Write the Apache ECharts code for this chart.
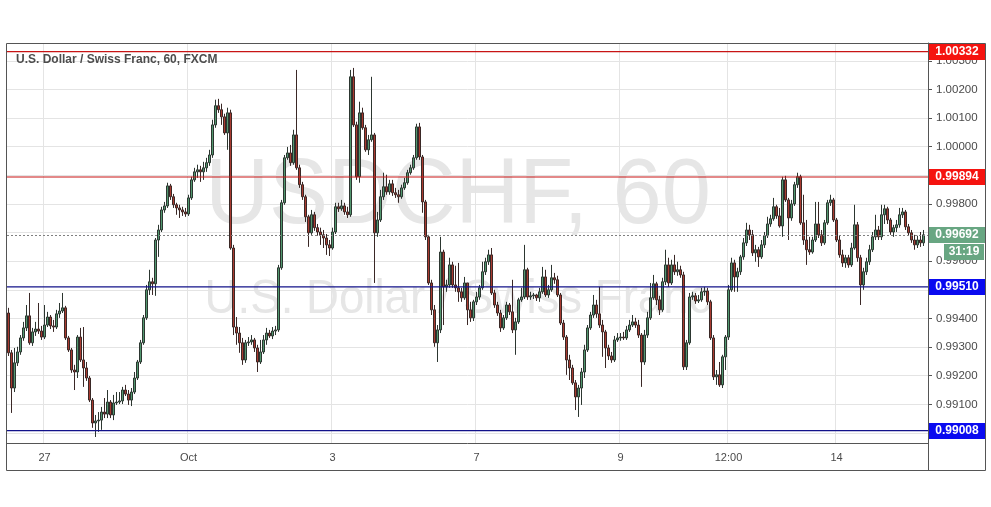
<!DOCTYPE html>
<html><head><meta charset="utf-8">
<script src="https://cdn.jsdelivr.net/npm/echarts@6/dist/echarts.min.js"></script>
<style>html,body{margin:0;padding:0;background:#fff}#c{width:991px;height:507px}</style>
</head><body><div id="c"></div>
<script>
// Hourly candles, each row: [open, close, low, high]
const sep26 = [
[0.99419,0.99280,0.99269,0.99437],[0.99280,0.99157,0.99070,0.99290],[0.99157,0.99245,0.99143,0.99297],[0.99245,0.99283,0.99234,0.99301],
[0.99283,0.99332,0.99273,0.99342],[0.99332,0.99367,0.99322,0.99388],[0.99367,0.99409,0.99356,0.99447],[0.99409,0.99315,0.99308,0.99489],
[0.99315,0.99353,0.99304,0.99367],[0.99353,0.99363,0.99339,0.99388],[0.99363,0.99356,0.99346,0.99454],[0.99356,0.99335,0.99325,0.99374]];
const sep27 = [
[0.99335,0.99377,0.99328,0.99447],[0.99377,0.99405,0.99370,0.99423],[0.99405,0.99374,0.99363,0.99412],[0.99374,0.99370,0.99353,0.99395],
[0.99370,0.99416,0.99363,0.99430],[0.99416,0.99426,0.99402,0.99454],[0.99426,0.99437,0.99419,0.99489],[0.99437,0.99332,0.99325,0.99444],
[0.99332,0.99290,0.99283,0.99339],[0.99290,0.99220,0.99210,0.99297],[0.99220,0.99213,0.99150,0.99238],[0.99213,0.99335,0.99192,0.99342],
[0.99335,0.99255,0.99248,0.99367],[0.99255,0.99227,0.99161,0.99370],[0.99227,0.99192,0.99182,0.99248],[0.99192,0.99115,0.99108,0.99199],
[0.99115,0.99035,0.99018,0.99122],[0.99035,0.99042,0.98986,0.99063],[0.99042,0.99045,0.99004,0.99073],[0.99045,0.99073,0.99011,0.99091],
[0.99073,0.99066,0.99052,0.99122],[0.99066,0.99108,0.99052,0.99150]];
const sep29 = [[0.99108,0.99063,0.99052,0.99115],[0.99063,0.99105,0.99045,0.99133]];
const sep30 = [
[0.99105,0.99108,0.99098,0.99143],[0.99108,0.99112,0.99101,0.99143],[0.99112,0.99150,0.99101,0.99161],[0.99150,0.99136,0.99129,0.99168],
[0.99136,0.99115,0.99098,0.99150],[0.99115,0.99143,0.99094,0.99157],[0.99143,0.99192,0.99136,0.99213],[0.99192,0.99248,0.99185,0.99255],
[0.99248,0.99315,0.99241,0.99325],[0.99315,0.99402,0.99308,0.99412],[0.99402,0.99500,0.99395,0.99517],[0.99500,0.99528,0.99482,0.99570],
[0.99528,0.99521,0.99482,0.99542],[0.99521,0.99674,0.99479,0.99681],[0.99674,0.99709,0.99615,0.99727],[0.99709,0.99779,0.99702,0.99790],
[0.99779,0.99793,0.99769,0.99807],[0.99793,0.99863,0.99786,0.99874],[0.99863,0.99825,0.99814,0.99870],[0.99825,0.99797,0.99786,0.99835],
[0.99797,0.99786,0.99762,0.99804],[0.99786,0.99779,0.99751,0.99797],[0.99779,0.99772,0.99758,0.99790],[0.99772,0.99765,0.99755,0.99786]];
const oct01 = [
[0.99765,0.99821,0.99758,0.99832],[0.99821,0.99884,0.99814,0.99895],[0.99884,0.99912,0.99877,0.99926],[0.99912,0.99919,0.99891,0.99937],
[0.99919,0.99912,0.99877,0.99933],[0.99912,0.99926,0.99884,0.99947],[0.99926,0.99944,0.99912,0.99961],[0.99944,0.99971,0.99933,0.99989],
[0.99971,1.00076,0.99961,1.00094],[1.00076,1.00143,1.00066,1.00164],[1.00143,1.00129,1.00118,1.00167],[1.00129,1.00104,1.00076,1.00150],
[1.00104,1.00048,1.00041,1.00115],[1.00048,1.00118,0.99989,1.00136],[1.00118,0.99646,0.99640,1.00129],[0.99646,0.99370,0.99342,0.99657],
[0.99370,0.99349,0.99308,0.99405],[0.99349,0.99315,0.99280,0.99370],[0.99315,0.99255,0.99238,0.99332],[0.99255,0.99315,0.99245,0.99325],
[0.99315,0.99318,0.99304,0.99335],[0.99318,0.99325,0.99308,0.99342],[0.99325,0.99297,0.99283,0.99332],[0.99297,0.99248,0.99213,0.99308]];
const oct02 = [
[0.99248,0.99283,0.99241,0.99325],[0.99283,0.99325,0.99276,0.99342],[0.99325,0.99349,0.99308,0.99367],[0.99349,0.99339,0.99332,0.99360],
[0.99339,0.99356,0.99328,0.99370],[0.99356,0.99360,0.99342,0.99374],[0.99360,0.99577,0.99353,0.99587],[0.99577,0.99804,0.99570,0.99814],
[0.99804,0.99961,0.99797,0.99971],[0.99961,0.99978,0.99954,0.99999],[0.99978,0.99944,0.99933,1.00006],[0.99944,1.00041,0.99937,1.00059],
[1.00041,0.99926,0.99919,1.00268],[0.99926,0.99867,0.99856,0.99937],[0.99867,0.99825,0.99814,0.99877],[0.99825,0.99755,0.99737,0.99832],
[0.99755,0.99699,0.99650,0.99762],[0.99699,0.99762,0.99692,0.99779],[0.99762,0.99717,0.99706,0.99772],[0.99717,0.99702,0.99689,0.99730],
[0.99702,0.99692,0.99657,0.99717],[0.99692,0.99681,0.99646,0.99709],[0.99681,0.99657,0.99622,0.99695],[0.99657,0.99646,0.99618,0.99674]];
const oct03 = [
[0.99646,0.99702,0.99640,0.99717],[0.99702,0.99790,0.99695,0.99804],[0.99790,0.99783,0.99772,0.99804],[0.99783,0.99793,0.99776,0.99814],
[0.99793,0.99772,0.99762,0.99804],[0.99772,0.99762,0.99751,0.99790],[0.99762,1.00244,0.99755,1.00268],[1.00244,1.00076,1.00069,1.00275],
[1.00076,0.99895,0.99884,1.00087],[0.99895,1.00118,0.99874,1.00157],[1.00118,1.00066,1.00059,1.00136],[1.00066,0.99989,0.99982,1.00076],
[0.99989,1.00024,0.99971,1.00041],[1.00024,1.00041,1.00017,1.00244],[1.00041,0.99699,0.99524,1.00048],[0.99699,0.99744,0.99685,0.99772],
[0.99744,0.99825,0.99737,0.99849],[0.99825,0.99860,0.99814,0.99909],[0.99860,0.99842,0.99832,0.99902],[0.99842,0.99870,0.99832,0.99884],
[0.99870,0.99839,0.99828,0.99884],[0.99839,0.99832,0.99821,0.99856],[0.99832,0.99825,0.99804,0.99849],[0.99825,0.99856,0.99818,0.99867]];
const oct04 = [
[0.99856,0.99874,0.99849,0.99891],[0.99874,0.99909,0.99867,0.99919],[0.99909,0.99926,0.99902,0.99937],[0.99926,0.99961,0.99919,0.99971],
[0.99961,1.00069,0.99954,1.00080],[1.00069,0.99964,0.99954,1.00083],[0.99964,0.99807,0.99769,0.99971],[0.99807,0.99685,0.99674,0.99814],
[0.99685,0.99524,0.99517,0.99692],[0.99524,0.99430,0.99412,0.99535],[0.99430,0.99315,0.99301,0.99447],[0.99315,0.99360,0.99248,0.99377],
[0.99360,0.99632,0.99349,0.99685],[0.99632,0.99510,0.99377,0.99640],[0.99510,0.99517,0.99493,0.99535],[0.99517,0.99587,0.99507,0.99612],
[0.99587,0.99517,0.99507,0.99598],[0.99517,0.99507,0.99493,0.99584],[0.99507,0.99493,0.99458,0.99594],[0.99493,0.99472,0.99458,0.99507],
[0.99472,0.99524,0.99465,0.99545],[0.99524,0.99430,0.99377,0.99524]];
const oct06 = [[0.99430,0.99402,0.99388,0.99458],[0.99402,0.99458,0.99391,0.99465]];
const oct07 = [
[0.99458,0.99475,0.99447,0.99493],[0.99475,0.99507,0.99465,0.99517],[0.99507,0.99563,0.99500,0.99598],[0.99563,0.99598,0.99552,0.99612],
[0.99598,0.99622,0.99587,0.99640],[0.99622,0.99489,0.99482,0.99646],[0.99489,0.99447,0.99437,0.99500],[0.99447,0.99419,0.99409,0.99458],
[0.99419,0.99367,0.99353,0.99430],[0.99367,0.99402,0.99360,0.99412],[0.99402,0.99447,0.99395,0.99458],[0.99447,0.99423,0.99412,0.99454],
[0.99423,0.99360,0.99349,0.99535],[0.99360,0.99388,0.99273,0.99402],[0.99388,0.99465,0.99381,0.99472],[0.99465,0.99475,0.99458,0.99507],
[0.99475,0.99570,0.99468,0.99657],[0.99570,0.99475,0.99465,0.99577],[0.99475,0.99479,0.99465,0.99493],[0.99479,0.99482,0.99468,0.99489],
[0.99482,0.99472,0.99461,0.99486],[0.99472,0.99493,0.99458,0.99507],[0.99493,0.99545,0.99486,0.99580],[0.99545,0.99482,0.99475,0.99570]];
const oct08 = [
[0.99482,0.99500,0.99472,0.99517],[0.99500,0.99542,0.99493,0.99587],[0.99542,0.99535,0.99521,0.99559],[0.99535,0.99482,0.99475,0.99549],
[0.99482,0.99384,0.99377,0.99489],[0.99384,0.99335,0.99325,0.99395],[0.99335,0.99255,0.99203,0.99342],[0.99255,0.99227,0.99185,0.99273],
[0.99227,0.99175,0.99168,0.99238],[0.99175,0.99126,0.99080,0.99185],[0.99126,0.99157,0.99056,0.99168],[0.99157,0.99213,0.99098,0.99227],
[0.99213,0.99290,0.99192,0.99308],[0.99290,0.99367,0.99283,0.99377],[0.99367,0.99412,0.99360,0.99423],[0.99412,0.99447,0.99402,0.99482],
[0.99447,0.99416,0.99402,0.99465],[0.99416,0.99377,0.99367,0.99510],[0.99377,0.99353,0.99266,0.99395],[0.99353,0.99297,0.99227,0.99360],
[0.99297,0.99269,0.99255,0.99308],[0.99269,0.99255,0.99245,0.99283],[0.99255,0.99325,0.99248,0.99339],[0.99325,0.99332,0.99318,0.99349]];
const oct09 = [
[0.99332,0.99335,0.99322,0.99349],[0.99335,0.99332,0.99325,0.99353],[0.99332,0.99360,0.99325,0.99374],[0.99360,0.99377,0.99353,0.99395],
[0.99377,0.99388,0.99370,0.99412],[0.99388,0.99377,0.99367,0.99402],[0.99377,0.99342,0.99332,0.99395],[0.99342,0.99248,0.99161,0.99349],
[0.99248,0.99342,0.99238,0.99360],[0.99342,0.99402,0.99332,0.99423],[0.99402,0.99472,0.99395,0.99524],[0.99472,0.99521,0.99465,0.99552],
[0.99521,0.99465,0.99447,0.99528],[0.99465,0.99430,0.99412,0.99479],[0.99430,0.99528,0.99423,0.99542],[0.99528,0.99587,0.99517,0.99640],
[0.99587,0.99524,0.99510,0.99612],[0.99524,0.99587,0.99517,0.99605],[0.99587,0.99563,0.99552,0.99622],[0.99563,0.99570,0.99549,0.99598],
[0.99570,0.99552,0.99542,0.99584],[0.99552,0.99231,0.99220,0.99563],[0.99231,0.99315,0.99220,0.99325],[0.99315,0.99475,0.99308,0.99489]];
const oct10 = [
[0.99475,0.99479,0.99465,0.99493],[0.99479,0.99461,0.99451,0.99489],[0.99461,0.99465,0.99454,0.99482],[0.99465,0.99493,0.99458,0.99507],
[0.99493,0.99496,0.99479,0.99510],[0.99496,0.99458,0.99447,0.99507],[0.99458,0.99332,0.99325,0.99465],[0.99332,0.99196,0.99185,0.99342],
[0.99196,0.99203,0.99168,0.99220],[0.99203,0.99168,0.99161,0.99248],[0.99168,0.99266,0.99157,0.99273],[0.99266,0.99335,0.99220,0.99342],
[0.99335,0.99500,0.99325,0.99517],[0.99500,0.99594,0.99493,0.99612],[0.99594,0.99545,0.99493,0.99605],[0.99545,0.99563,0.99493,0.99577],
[0.99563,0.99615,0.99552,0.99622],[0.99615,0.99664,0.99605,0.99681],[0.99664,0.99709,0.99653,0.99734],[0.99709,0.99692,0.99674,0.99727],
[0.99692,0.99629,0.99618,0.99709],[0.99629,0.99640,0.99598,0.99657],[0.99640,0.99615,0.99580,0.99650],[0.99615,0.99657,0.99608,0.99674]];
const oct11 = [
[0.99657,0.99689,0.99646,0.99702],[0.99689,0.99730,0.99681,0.99755],[0.99730,0.99748,0.99720,0.99762],[0.99748,0.99790,0.99741,0.99821],
[0.99790,0.99758,0.99748,0.99797],[0.99758,0.99723,0.99717,0.99786],[0.99723,0.99884,0.99685,0.99895],[0.99884,0.99814,0.99807,0.99898],
[0.99814,0.99751,0.99674,0.99821],[0.99751,0.99800,0.99741,0.99814],[0.99800,0.99867,0.99793,0.99877],[0.99867,0.99895,0.99856,0.99909],
[0.99895,0.99734,0.99727,0.99902],[0.99734,0.99674,0.99657,0.99832],[0.99674,0.99640,0.99587,0.99744],[0.99640,0.99632,0.99622,0.99685],
[0.99632,0.99674,0.99626,0.99685],[0.99674,0.99730,0.99667,0.99807],[0.99730,0.99692,0.99681,0.99807],[0.99692,0.99664,0.99653,0.99709],
[0.99664,0.99734,0.99657,0.99744],[0.99734,0.99804,0.99727,0.99814]];
const oct13 = [[0.99804,0.99814,0.99793,0.99832],[0.99814,0.99744,0.99737,0.99821]];
const oct14 = [
[0.99744,0.99674,0.99667,0.99751],[0.99674,0.99622,0.99612,0.99689],[0.99622,0.99594,0.99580,0.99640],[0.99594,0.99612,0.99577,0.99622],
[0.99612,0.99587,0.99577,0.99622],[0.99587,0.99646,0.99580,0.99664],[0.99646,0.99727,0.99640,0.99797],[0.99727,0.99612,0.99598,0.99737],
[0.99612,0.99517,0.99447,0.99622],[0.99517,0.99563,0.99500,0.99577],[0.99563,0.99598,0.99552,0.99612],[0.99598,0.99640,0.99587,0.99657],
[0.99640,0.99685,0.99632,0.99702],[0.99685,0.99709,0.99674,0.99762],[0.99709,0.99685,0.99674,0.99723],[0.99685,0.99762,0.99674,0.99797],
[0.99762,0.99783,0.99730,0.99797],[0.99783,0.99744,0.99730,0.99790],[0.99744,0.99702,0.99692,0.99751],[0.99702,0.99717,0.99685,0.99727],
[0.99717,0.99727,0.99702,0.99744],[0.99727,0.99762,0.99717,0.99786],[0.99762,0.99772,0.99751,0.99786],[0.99772,0.99720,0.99709,0.99779]];
const oct15 = [
[0.99720,0.99699,0.99689,0.99730],[0.99699,0.99674,0.99664,0.99709],[0.99674,0.99657,0.99640,0.99692],[0.99657,0.99674,0.99646,0.99689],
[0.99674,0.99664,0.99650,0.99702],[0.99664,0.99692,0.99653,0.99709]];

// trading sessions: [date, first hour, rows]
const sessions = [
  ['2019-09-26', 12, sep26], ['2019-09-27', 0, sep27], ['2019-09-29', 22, sep29], ['2019-09-30', 0, sep30],
  ['2019-10-01', 0, oct01], ['2019-10-02', 0, oct02], ['2019-10-03', 0, oct03], ['2019-10-04', 0, oct04],
  ['2019-10-06', 22, oct06], ['2019-10-07', 0, oct07], ['2019-10-08', 0, oct08], ['2019-10-09', 0, oct09],
  ['2019-10-10', 0, oct10], ['2019-10-11', 0, oct11], ['2019-10-13', 22, oct13], ['2019-10-14', 0, oct14],
  ['2019-10-15', 0, oct15]
];
const tickTimes  = ['2019-09-27 00:00','2019-10-01 00:00','2019-10-03 00:00','2019-10-07 00:00','2019-10-09 00:00','2019-10-10 12:00','2019-10-14 00:00'];
const tickLabels = ['27','Oct','3','7','9','12:00','14'];
const levelPrices = [1.00332, 0.99894, 0.99510, 0.99008];
const levelKinds  = ['resistance','resistance','support','support'];
const lastPrice = 0.99692;
const countdown = '31:19';
const titleText = 'U.S. Dollar / Swiss Franc, 60, FXCM';
const wmSymbol = 'USDCHF, 60';
const wmName = 'U.S. Dollar / Swiss Franc';

const pad = n => (n < 10 ? '0' : '') + n;
const cats = [], data = [];
sessions.forEach(([d, h0, rows]) => rows.forEach((r, k) => { cats.push(d + ' ' + pad(h0 + k) + ':00'); data.push(r); }));
cats.push('2019-10-15 06:00'); data.push('-');
const tickSet = new Set(tickTimes.map(t => cats.indexOf(t)));
const labelOf = {}; tickTimes.forEach((t, i) => labelOf[t] = tickLabels[i]);
const isTick = idx => tickSet.has(idx);

const chart = echarts.init(document.getElementById('c'), null, {renderer: 'canvas'});
const kindColor = {resistance: '#c81414', support: '#12128a'};
const boxColor = {resistance: '#f5130f', support: '#0a0af0'};
const FONT = '"Liberation Sans", Arial, sans-serif';

chart.setOption({
  animation: false,
  backgroundColor: '#ffffff',
  grid: {left: 7, right: 63, top: 43, bottom: 64, show: false},
  xAxis: {
    type: 'category', data: cats, boundaryGap: true,
    axisLine: {lineStyle: {color: '#555555', width: 1}},
    axisTick: {alignWithLabel: true, interval: isTick, length: 4, lineStyle: {color: '#555555'}},
    axisLabel: {interval: isTick, formatter: v => labelOf[v] || '', color: '#4a4a4a', fontSize: 11, fontFamily: FONT, margin: 9},
    splitLine: {show: true, interval: isTick, lineStyle: {color: '#e4e4e4', width: 1}}
  },
  yAxis: {
    type: 'value', position: 'right', scale: true,
    min: 0.98965, max: 1.00362, splitNumber: 14,
    axisLine: {show: true, lineStyle: {color: '#555555'}},
    axisTick: {show: true, length: 4, lineStyle: {color: '#555555'}},
    axisLabel: {formatter: v => v.toFixed(5), color: '#4a4a4a', fontSize: 11.5, fontFamily: FONT, margin: 8, showMinLabel: false, showMaxLabel: false},
    splitLine: {show: true, lineStyle: {color: '#e4e4e4', width: 1}}
  },
  series: [{
    type: 'candlestick', data: data, barWidth: 2.5, z: 3,
    itemStyle: {color: '#52976f', color0: '#a83a30', borderColor: '#2c3630', borderColor0: '#3a2826', borderWidth: 1}
  }]
});

const yPix = v => chart.convertToPixel({yAxisIndex: 0}, v);
const xLeft = chart.convertToPixel({xAxisIndex: 0}, cats[0]) - 1.5;
const xRight = chart.convertToPixel({xAxisIndex: 0}, cats[cats.length - 1]) + 1.5;
const elems = [];
// watermark
elems.push({type: 'text', x: 458, y: 197, scaleX: 0.95, z: -10, silent: true,
  style: {text: wmSymbol, font: '93px ' + FONT, fill: '#e6e6e6', textAlign: 'center', textVerticalAlign: 'middle'}});
elems.push({type: 'text', x: 458, y: 300, scaleX: 0.95, z: -10, silent: true,
  style: {text: wmName, font: '48px ' + FONT, fill: '#e6e6e6', textAlign: 'center', textVerticalAlign: 'middle'}});
// title
elems.push({type: 'text', x: 16, y: 60, z: 50,
  style: {text: titleText, font: 'bold 12px ' + FONT, fill: '#4d4d4d', textAlign: 'left', textVerticalAlign: 'middle'}});
// horizontal level lines and current-price line (positioned through the y scale)
levelPrices.forEach((p, i) => {
  const y = yPix(p);
  elems.push({type: 'line', z: 40, silent: true, shape: {x1: xLeft, y1: y, x2: xRight, y2: y}, style: {stroke: kindColor[levelKinds[i]], lineWidth: 1.2}});
});
{
  const y = Math.round(yPix(lastPrice)) + 0.5;
  elems.push({type: 'line', z: 40, silent: true, shape: {x1: xLeft, y1: y, x2: xRight, y2: y}, style: {stroke: '#808080', lineWidth: 1, lineDash: [2, 2]}});
}
// frame
elems.push({type: 'rect', z: 60, shape: {x: 6.5, y: 43.5, width: 979, height: 427}, style: {fill: null, stroke: '#555555', lineWidth: 1}});
elems.push({type: 'line', z: 60, shape: {x1: 928.5, y1: 443, x2: 928.5, y2: 470}, style: {stroke: '#555555', lineWidth: 1}});
// price boxes
levelPrices.forEach((p, i) => {
  const y = Math.round(yPix(p));
  elems.push({type: 'rect', z: 70, shape: {x: 929, y: y - 8, width: 56, height: 16}, style: {fill: boxColor[levelKinds[i]]}});
  elems.push({type: 'text', z: 71, x: 957, y: y, style: {text: p.toFixed(5), font: 'bold 12px ' + FONT, fill: '#ffffff', textAlign: 'center', textVerticalAlign: 'middle'}});
});
{
  const y = Math.round(yPix(lastPrice));
  elems.push({type: 'rect', z: 70, shape: {x: 929, y: y - 8, width: 56, height: 16}, style: {fill: '#68a682'}});
  elems.push({type: 'text', z: 71, x: 957, y: y, style: {text: lastPrice.toFixed(5), font: 'bold 12px ' + FONT, fill: '#ffffff', textAlign: 'center', textVerticalAlign: 'middle'}});
  elems.push({type: 'rect', z: 70, shape: {x: 944, y: y + 9, width: 40, height: 16}, style: {fill: '#68a682'}});
  elems.push({type: 'text', z: 71, x: 964, y: y + 17, style: {text: countdown, font: 'bold 12px ' + FONT, fill: '#ffffff', textAlign: 'center', textVerticalAlign: 'middle'}});
}
chart.setOption({graphic: {elements: elems}});
</script>
</body></html>
